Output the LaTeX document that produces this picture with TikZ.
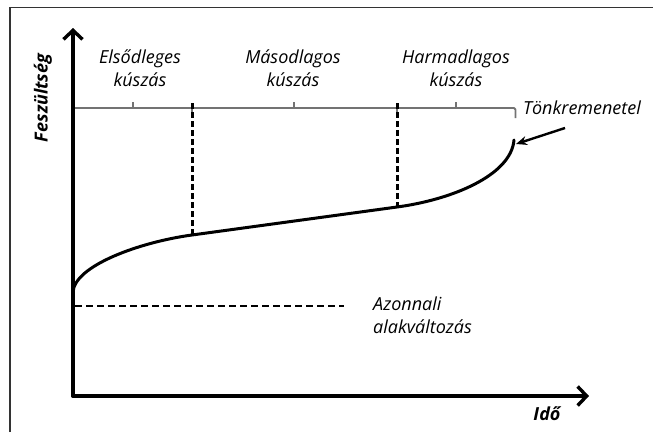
\documentclass[tikz,border=0pt]{standalone}
\usepackage{fontspec}
\setmainfont{Open Sans}
\usetikzlibrary{arrows.meta}
\begin{document}
\begin{tikzpicture}[x=1pt,y=-1pt,
  lbl/.style={font=\fontsize{18}{23}\selectfont\itshape, inner sep=0pt, align=center},
  lblleft/.style={font=\fontsize{18}{23}\selectfont\itshape, inner sep=0pt, align=left, anchor=west},
  axlbl/.style={font=\fontsize{18}{20}\selectfont\bfseries\itshape, inner sep=0pt},
  axisline/.style={line width=3.6pt, line cap=round, line join=round, -{Straight Barb[length=9pt,width=19pt,line width=3.4pt]}},
  curveline/.style={line width=3pt, line cap=round},
  vdash/.style={line width=3pt, dash pattern=on 6pt off 3pt},
  hdash/.style={line width=2.8pt, dash pattern=on 7pt off 4pt},
  bracket/.style={line width=1.8pt, draw=black!55, line join=round},
  frameline/.style={line width=1.6pt, draw=black!80},
  failarrow/.style={line width=2.4pt, -{Stealth[length=11pt,width=9pt]}}
]
\useasboundingbox (0,0) rectangle (653,432);
% frame
\draw[frameline] (10,432) -- (10,7.5) -- (653,7.5);

% axes
\coordinate (O) at (73,396);
\coordinate (ytip) at (73,28);
\coordinate (xtip) at (589,396);
\draw[axisline] (O) -- (ytip);
\draw[axisline] (O) -- (xtip);

% key points on the curve
\coordinate (c0) at (73,293);
\coordinate (c1) at (192,235);
\coordinate (c2) at (397,207);
\coordinate (c3) at (514,140);

% bracket line
\coordinate (b0) at (75,108);
\coordinate (b1) at (192,108);
\coordinate (b2) at (397,108);
\coordinate (b3) at (514,108);
\draw[bracket] (b0) -- (b3) to[out=0,in=90] ++(1.5,4) -- ++(0,6);
\draw[bracket] (133,108) -- (133,102);
\draw[bracket] (294,108) -- (294,102);
\draw[bracket] (456,108) -- (456,102);
\draw[bracket] (b1) -- ++(0,5);
\draw[bracket] (b2) -- ++(0,5);

% dashed phase separators
\draw[vdash] ([yshift=5pt]b1) -- (c1);
\draw[vdash] ([yshift=5pt]b2) -- (c2);

% creep curve
\draw[curveline] (c0) .. controls (73,266) and (140,242) .. (c1)
  -- (c2) .. controls (450,200) and (511,176) .. (c3);

% instantaneous deformation level
\coordinate (d0) at (75,306);
\coordinate (d1) at (344,306);
\draw[hdash] (d0) -- (d1);

% labels
\node[lbl] (prim) at (140,68.5) {Elsődleges\\kúszás};
\node[lbl] (sec) at (293,68.5) {Másodlagos\\kúszás};
\node[lbl] (ter) at (456,68.5) {Harmadlagos\\kúszás};
\node[lbl] (fail) at (582,108) {Tönkremenetel};
\node[lblleft] (inst) at (373,315.5) {Azonnali\\alakváltozás};
\node[axlbl, rotate=90] (ylab) at (43,98) {Feszültség};
\node[axlbl] (xlab) at (547,414) {Idő};

% failure arrow
\coordinate (ftail) at (565,128);
\draw[failarrow] (ftail) -- ([xshift=2pt,yshift=-4pt]c3);
\end{tikzpicture}
\end{document}
